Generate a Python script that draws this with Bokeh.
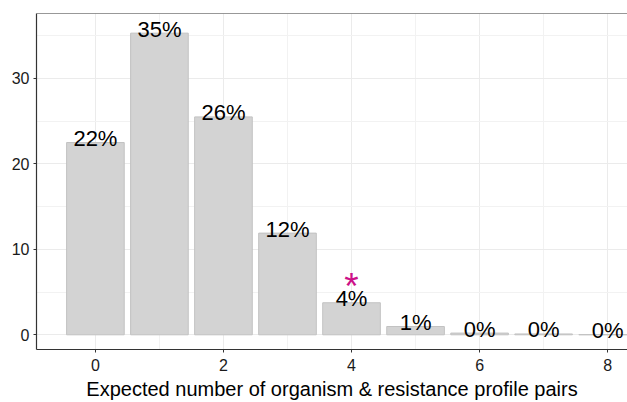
from bokeh.plotting import figure
from bokeh.models import ColumnDataSource, Range1d, FixedTicker, Span
from bokeh.core.properties import value
from bokeh.embed import file_html
from bokeh.resources import INLINE

# data
counts = [0, 1, 2, 3, 4, 5, 6, 7, 8]
percent = [22.5, 35.3, 25.5, 11.9, 3.75, 0.97, 0.2, 0.1, 0.02]
labels = ["22%", "35%", "26%", "12%", "4%", "1%", "0%", "0%", "0%"]
highlight_x = [4]
highlight_y = [3.75]
x_ticks = [0, 2, 4, 6, 8]
y_ticks = [0, 10, 20, 30]

FONT = "Liberation Sans"

src = ColumnDataSource(dict(x=counts, top=percent, label=labels))
hsrc = ColumnDataSource(dict(x=highlight_x, y=highlight_y, t=["*"]))

p = figure(width=627, height=402, output_backend="svg", toolbar_location=None,
           x_range=Range1d(-0.92, 8.31), y_range=Range1d(-1.72, 37.6),
           min_border_left=36, min_border_top=13, min_border_right=0,
           min_border_bottom=50)
p.outline_line_color = None
p.background_fill_color = "white"
p.border_fill_color = "white"

p.vbar(x="x", top="top", width=0.9, bottom=0, source=src,
       fill_color="#D3D3D3", line_color="#C2C2C2", line_width=1)

p.text(x="x", y="top", text="label", source=src, text_align="center",
       text_baseline="middle", y_offset=-4, text_font=value(FONT),
       text_font_size="22px", text_color="#000000")

p.text(x="x", y="y", text="t", source=hsrc, text_align="center",
       text_baseline="alphabetic", y_offset=-16, text_font=value(FONT),
       text_font_size="37px", text_color="#CC1188")

# top border line
p.add_layout(Span(location=37.6, dimension="width", line_color="#333333", line_width=1.2))

p.xaxis.ticker = FixedTicker(ticks=x_ticks, minor_ticks=[1, 3, 5, 7])
p.yaxis.ticker = FixedTicker(ticks=y_ticks, minor_ticks=[5, 15, 25, 35])

for ax in (p.xaxis, p.yaxis):
    ax.axis_line_color = "#333333"
    ax.axis_line_width = 1.2
    ax.major_tick_line_color = "#333333"
    ax.major_tick_out = 3
    ax.major_tick_in = 0
    ax.minor_tick_line_color = None
    ax.major_label_text_font = FONT
    ax.major_label_text_font_size = "16px"
    ax.major_label_text_color = "#1a1a1a"

p.xaxis.major_label_standoff = 5
p.yaxis.major_label_standoff = 3
p.xaxis.axis_label = "Expected number of organism & resistance profile pairs"
p.xaxis.axis_label_text_font = FONT
p.xaxis.axis_label_text_font_size = "20px"
p.xaxis.axis_label_text_font_style = "normal"
p.xaxis.axis_label_text_color = "#000000"
p.xaxis.axis_label_standoff = 4

p.xgrid.grid_line_color = "#EBEBEB"
p.ygrid.grid_line_color = "#EBEBEB"
p.xgrid.minor_grid_line_color = "#F2F2F2"
p.ygrid.minor_grid_line_color = "#F2F2F2"

open("out.html", "w").write(file_html(p, INLINE))
